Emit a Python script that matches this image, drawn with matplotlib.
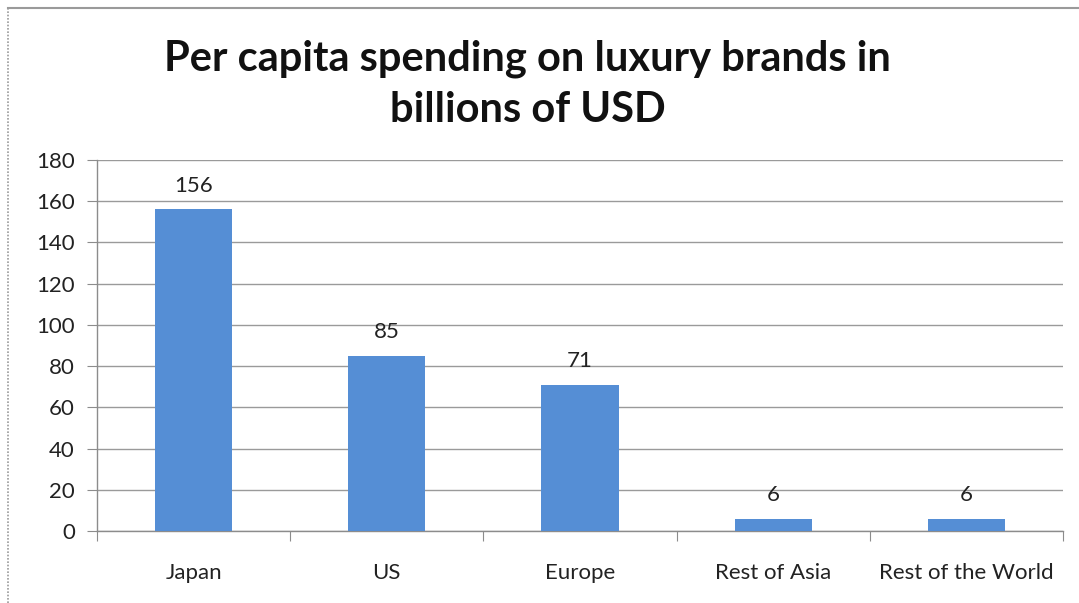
import matplotlib.pyplot as plt
from matplotlib.lines import Line2D

categories = ["Japan", "US", "Europe", "Rest of Asia", "Rest of the World"]
values = [156, 85, 71, 6, 6]
y_ticks = [0, 20, 40, 60, 80, 100, 120, 140, 160, 180]
title = "Per capita spending on luxury brands in\nbillions of USD"

plt.rcParams['font.family'] = ['Lato', 'DejaVu Sans']

fig = plt.figure(figsize=(10.79, 6.03), dpi=100)
fig.patch.set_facecolor('white')

# outer frame of the chart
fig.add_artist(Line2D([0.0074, 0.0074], [0, 0.987], transform=fig.transFigure,
                      color='#9a9a9a', lw=1.2, linestyle=(0, (1, 1))))
fig.add_artist(Line2D([0.0074, 1.0], [0.987, 0.987], transform=fig.transFigure,
                      color='#9a9a9a', lw=1.5))

ax = fig.add_axes([0.0899, 0.1194, 0.8953, 0.6153])
x = list(range(len(categories)))
ax.bar(x, values, width=0.4, color='#558ED5', zorder=3)

ax.set_xlim(-0.5, len(categories) - 0.5)
ax.set_ylim(0, 180)
ax.set_yticks(y_ticks)
ax.set_yticklabels([str(t) for t in y_ticks], fontsize=16, color='#222222')
ax.yaxis.grid(True, color='#9a9a9a', lw=1.0, zorder=0)
ax.set_axisbelow(True)

for s in ['top', 'right']:
    ax.spines[s].set_visible(False)
for s in ['left', 'bottom']:
    ax.spines[s].set_color('#8c8c8c')
    ax.spines[s].set_linewidth(1.0)

ax.tick_params(axis='y', length=7, color='#8c8c8c', pad=9)
# category boundary ticks on the x axis
ax.set_xticks([i - 0.5 for i in range(len(categories) + 1)])
ax.set_xticklabels([])
ax.tick_params(axis='x', length=7, color='#8c8c8c')
ax.set_xticks(x, minor=True)
ax.set_xticklabels(categories, minor=True, fontsize=16, color='#222222')
ax.tick_params(axis='x', which='minor', length=0, pad=23)

for xi, v in zip(x, values):
    ax.annotate(str(v), (xi, v), xytext=(0, 10), textcoords='offset points',
                ha='center', va='bottom', fontsize=16, color='#222222')

fig.text(0.489, 0.860, title, ha='center', va='center', fontsize=30,
         fontweight='bold', color='#111111', linespacing=1.4)

fig.savefig('out.png', dpi=100, facecolor='white')
